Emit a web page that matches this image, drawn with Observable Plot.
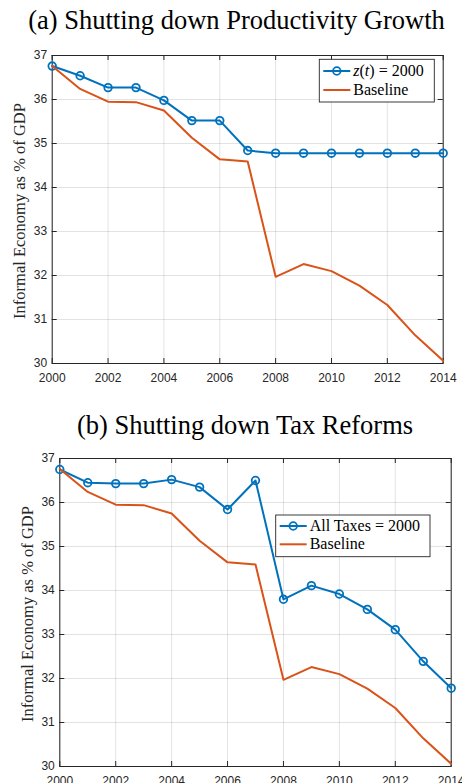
<!DOCTYPE html>
<html>
<head>
<meta charset="utf-8">
<script src="https://cdn.jsdelivr.net/npm/d3@7"></script>
<script src="https://cdn.jsdelivr.net/npm/@observablehq/plot@0.6"></script>
<style>
  html, body { margin: 0; padding: 0; background: #fff; }
  #fig { position: relative; width: 462px; height: 783px; overflow: hidden; background: #fff; }
  #fig svg { position: absolute; left: 0; }
</style>
</head>
<body>
<div id="fig"></div>
<script>
// Informal economy as % of GDP, 2000–2014
const years = [2000, 2001, 2002, 2003, 2004, 2005, 2006, 2007, 2008, 2009, 2010, 2011, 2012, 2013, 2014];
const baseline = [36.76, 36.24, 35.95, 35.94, 35.75, 35.13, 34.64, 34.59, 31.97, 32.26, 32.10, 31.77, 31.33, 30.64, 30.06];
const productivityFixed = [36.76, 36.54, 36.27, 36.27, 35.98, 35.52, 35.52, 34.84, 34.78, 34.78, 34.78, 34.78, 34.78, 34.78, 34.78];
const taxesFixed = [36.75, 36.45, 36.43, 36.43, 36.52, 36.35, 35.84, 36.50, 33.80, 34.11, 33.92, 33.57, 33.11, 32.39, 31.78];

const xTicks = [2000, 2002, 2004, 2006, 2008, 2010, 2012, 2014];
const yTicks = [30, 31, 32, 33, 34, 35, 36, 37];

const titles = ["(a) Shutting down Productivity Growth", "(b) Shutting down Tax Reforms"];
const yLabel = "Informal Economy as % of GDP";

const BLUE = "#0072BD";
const ORANGE = "#D95319";
const INK = "#262626";
const SERIF = "'Liberation Serif', 'Times New Roman', serif";
const SANS = "'Liberation Sans', Arial, Helvetica, sans-serif";
const W = 462;

const fig = document.getElementById("fig");

function drawPanel(cfg) {
  const {top, height, mt, mb, ml, mr, series, title, titleX, titleY, labelX, legend} = cfg;
  const plotH = height - mt - mb;
  const plotW = W - ml - mr;
  const rowsA = years.map((year, i) => ({year, value: series[i]}));
  const rowsB = years.map((year, i) => ({year, value: baseline[i]}));

  const chart = Plot.plot({
    width: W,
    height,
    marginTop: mt,
    marginBottom: mb,
    marginLeft: ml,
    marginRight: mr,
    style: {fontFamily: SANS, fontSize: "12px", color: INK, background: "transparent", overflow: "visible"},
    x: {domain: [2000, 2014]},
    y: {domain: [30, 37]},
    marks: [
      Plot.gridX(xTicks, {stroke: INK, strokeOpacity: 0.13, strokeWidth: 1}),
      Plot.gridY(yTicks, {stroke: INK, strokeOpacity: 0.13, strokeWidth: 1}),
      // inward ticks on all four sides of the box
      Plot.tickX(xTicks, {x: d => d, insetBottom: plotH - 5, stroke: INK}),
      Plot.tickX(xTicks, {x: d => d, insetTop: plotH - 5, stroke: INK}),
      Plot.tickY(yTicks, {y: d => d, insetRight: plotW - 5, stroke: INK}),
      Plot.tickY(yTicks, {y: d => d, insetLeft: plotW - 5, stroke: INK}),
      Plot.axisX(xTicks, {tickSize: 0, tickPadding: 10, tickFormat: d => String(d), label: null, fill: INK}),
      Plot.axisY(yTicks, {tickSize: 0, tickPadding: 5, tickFormat: d => String(d), label: null, fill: INK}),
      Plot.frame({stroke: INK, strokeWidth: 1}),
      Plot.line(rowsA, {x: "year", y: "value", stroke: BLUE, strokeWidth: 2}),
      Plot.dot(rowsA, {x: "year", y: "value", r: 3.8, stroke: BLUE, strokeWidth: 1.8, fill: "none"}),
      Plot.line(rowsB, {x: "year", y: "value", stroke: ORANGE, strokeWidth: 2})
    ]
  });
  chart.style.top = top + "px";
  fig.appendChild(chart);

  const svg = d3.select(chart);

  // panel title
  svg.append("text")
    .attr("x", titleX).attr("y", titleY)
    .attr("text-anchor", "middle")
    .attr("font-family", SERIF).attr("font-size", 26.5)
    .attr("fill", "#000")
    .text(title);

  // y-axis label
  const cy = mt + plotH / 2 + 2;
  svg.append("text")
    .attr("transform", `translate(${labelX},${cy}) rotate(-90)`)
    .attr("text-anchor", "middle")
    .attr("font-family", SERIF).attr("font-size", 16.5)
    .attr("fill", INK)
    .text(yLabel);

  // legend
  const g = svg.append("g").attr("text-anchor", "start");
  g.append("rect")
    .attr("x", legend.x).attr("y", legend.y)
    .attr("width", legend.w).attr("height", legend.h)
    .attr("fill", "#fff").attr("stroke", INK).attr("stroke-width", 0.9);
  const sx0 = legend.x + 4, sx1 = legend.x + 31, tx = legend.x + 34;
  const r1 = legend.y + legend.row1, r2 = legend.y + legend.row2;
  g.append("line").attr("x1", sx0).attr("x2", sx1).attr("y1", r1).attr("y2", r1)
    .attr("stroke", BLUE).attr("stroke-width", 2);
  g.append("circle").attr("cx", (sx0 + sx1) / 2).attr("cy", r1).attr("r", 3.8)
    .attr("fill", "none").attr("stroke", BLUE).attr("stroke-width", 1.8);
  g.append("line").attr("x1", sx0).attr("x2", sx1).attr("y1", r2).attr("y2", r2)
    .attr("stroke", ORANGE).attr("stroke-width", 2);
  const t1 = g.append("text").attr("x", tx).attr("y", r1 + 5)
    .attr("text-anchor", "start")
    .attr("font-family", SERIF).attr("font-size", 16).attr("fill", "#000");
  legend.label(t1);
  g.append("text").attr("x", tx).attr("y", r2 + 5)
    .attr("text-anchor", "start")
    .attr("font-family", SERIF).attr("font-size", 16).attr("fill", "#000")
    .text("Baseline");
}

drawPanel({
  top: 0, height: 392, mt: 55, mb: 29, ml: 51.7, mr: 19.3,
  series: productivityFixed,
  title: titles[0], titleX: 236.5, titleY: 29,
  labelX: 25,
  legend: {
    x: 319.3, y: 59.3, w: 115, h: 42.7, row1: 11.7, row2: 30.7,
    label: t => {
      t.append("tspan").attr("font-style", "italic").text("z");
      t.append("tspan").text("(");
      t.append("tspan").attr("font-style", "italic").text("t");
      t.append("tspan").text(") = 2000");
    }
  }
});

drawPanel({
  top: 392, height: 391, mt: 66, mb: 17, ml: 59.3, mr: 11.3,
  series: taxesFixed,
  title: titles[1], titleX: 245, titleY: 42,
  labelX: 33,
  legend: {
    x: 275.7, y: 123, w: 154.3, h: 41.7, row1: 11, row2: 29.3,
    label: t => t.text("All Taxes = 2000")
  }
});
</script>
</body>
</html>
